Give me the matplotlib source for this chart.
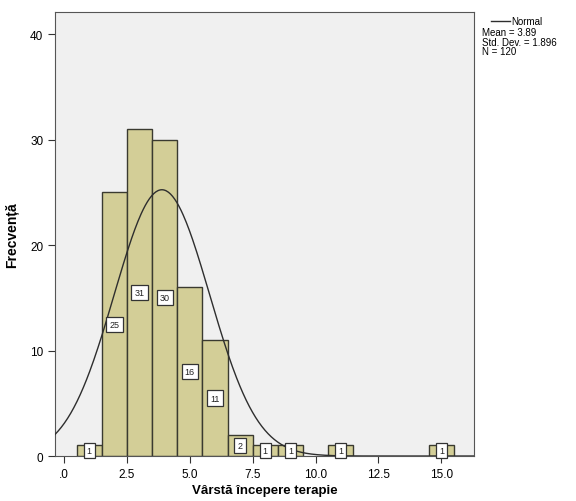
import numpy as np
import matplotlib.pyplot as plt

# bin centres (bin width 1) and counts
centers = [1, 2, 3, 4, 5, 6, 7, 8, 9, 11, 15]
counts = [1, 25, 31, 30, 16, 11, 2, 1, 1, 1, 1]
mean_val = 3.89
std_val = 1.896
n_total = 120
x_ticks = [0, 2.5, 5.0, 7.5, 10.0, 12.5, 15.0]
x_tick_labels = ['.0', '2.5', '5.0', '7.5', '10.0', '12.5', '15.0']
y_ticks = [0, 10, 20, 30, 40]

plt.rcParams['font.family'] = ['Liberation Sans', 'DejaVu Sans']

fig = plt.figure(figsize=(5.76, 5.02), dpi=100)
ax = fig.add_axes([0.0955, 0.0896, 0.7275, 0.8844])
ax.set_facecolor('#F0F0F0')

ax.bar(centers, counts, width=1.0, color='#D3CE97', edgecolor='#3A3A30', linewidth=1.0, zorder=2)

# normal curve scaled to counts
xs = np.linspace(-0.36, 16.3, 400)
ys = n_total * 1.0 / (std_val * np.sqrt(2 * np.pi)) * np.exp(-0.5 * ((xs - mean_val) / std_val) ** 2)
ax.plot(xs, ys, color='#2E2E2E', linewidth=1.0, zorder=3)

for c, n in zip(centers, counts):
    ax.text(c, n / 2, str(n), ha='center', va='center', fontsize=6.5, color='#222222', zorder=4,
            bbox=dict(facecolor='white', edgecolor='#333333', boxstyle='square,pad=0.35', linewidth=0.9))

ax.set_xlim(-0.36, 16.3)
ax.set_ylim(0, 42.1)
ax.set_xticks(x_ticks)
ax.set_xticklabels(x_tick_labels)
ax.set_yticks(y_ticks)
ax.tick_params(axis='both', labelsize=8.5, length=5, color='#333333', direction='out')
for s in ax.spines.values():
    s.set_color('#555555')

ax.set_xlabel('Vârstă începere terapie', fontsize=9.5, fontweight='bold', labelpad=3)
ax.set_ylabel('Frecvență', fontsize=10, fontweight='bold', labelpad=8)

# legend / statistics outside the axes
fig.lines.append(plt.Line2D([0.852, 0.885], [0.957, 0.957], transform=fig.transFigure, color='#2E2E2E', linewidth=1.0))
fig.text(0.887, 0.957, 'Normal', fontsize=7, va='center', ha='left')
fig.text(0.836, 0.944, f'Mean = {mean_val:.2f}\nStd. Dev. = {std_val:.3f}\nN = {n_total}',
         fontsize=7, va='top', ha='left', linespacing=0.95)

fig.savefig('out.png', dpi=100)
